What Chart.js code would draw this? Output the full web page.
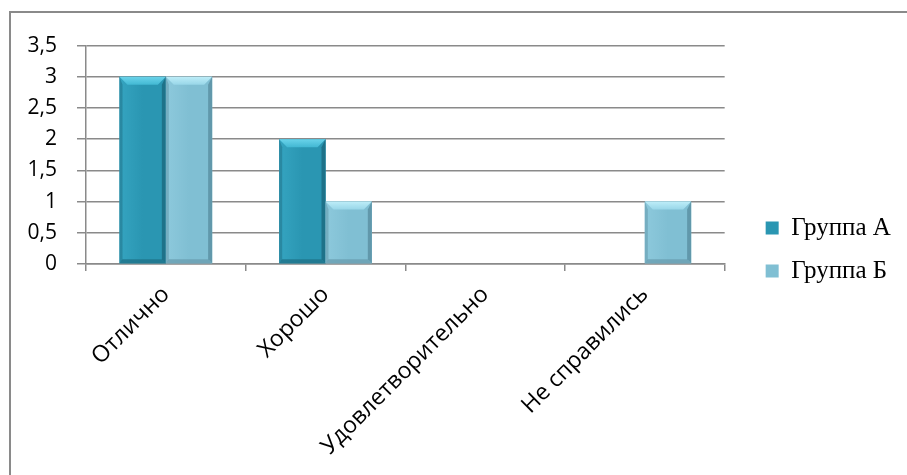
<!DOCTYPE html>
<html><head><meta charset="utf-8">
<script src="https://cdn.jsdelivr.net/npm/chart.js@4/dist/chart.umd.min.js"></script>
<style>
html,body{margin:0;padding:0;background:#fff;overflow:hidden;width:907px;height:475px}
#frame{position:absolute;left:9px;top:11px;width:920px;height:500px;border:2px solid #8a8a8a;background:#fff}
#c{position:absolute;left:0;top:0}
</style></head><body>
<div id="frame"><canvas id="c" width="900" height="446"></canvas></div>
<script>
const categories = ['Отлично', 'Хорошо', 'Удовлетворительно', 'Не справились'];
const groupA = [3, 2, 0, 0];
const groupB = [3, 1, 0, 1];
const seriesNames = ['Группа А', 'Группа Б'];
const yMin = 0, yMax = 3.5, yStep = 0.5;

const palette = [
  {base:'#2a96b2', light:'#35a4c0', dark:'#1d6e84', top:'#6ad3ea', topIn:'#42b8d3', bottom:'#1f7389'},
  {base:'#80bfd3', light:'#8dc9dc', dark:'#5d93a6', top:'#bdedf8', topIn:'#98d6e8', bottom:'#6a9fb1'}
];

const bevel = {
  id: 'bevel',
  afterDatasetsDraw(chart) {
    const ctx = chart.ctx;
    chart.data.datasets.forEach((ds, i) => {
      const meta = chart.getDatasetMeta(i);
      const p = palette[i];
      meta.data.forEach(bar => {
        const {x, y, base, width} = bar.getProps(['x', 'y', 'base', 'width'], true);
        const h = base - y;
        if (h < 1) return;
        const L = x - width / 2, R = x + width / 2, T = y, B = base;
        const b = Math.min(8, h / 2);
        ctx.save();
        const g = ctx.createLinearGradient(L, 0, R, 0);
        g.addColorStop(0, p.light);
        g.addColorStop(0.5, p.base);
        g.addColorStop(1, p.base);
        ctx.fillStyle = g;
        ctx.fillRect(L, T, width, h);
        const tg = ctx.createLinearGradient(0, T, 0, T + b);
        tg.addColorStop(0, p.top);
        tg.addColorStop(1, p.topIn);
        ctx.fillStyle = tg;
        ctx.beginPath();
        ctx.moveTo(L, T); ctx.lineTo(R, T); ctx.lineTo(R - b, T + b); ctx.lineTo(L + b, T + b); ctx.closePath();
        ctx.fill();
        ctx.fillStyle = p.dark;
        ctx.globalAlpha = 0.5;
        ctx.beginPath();
        ctx.moveTo(L, T); ctx.lineTo(L + 3, T + b); ctx.lineTo(L + 3, B - 3); ctx.lineTo(L, B); ctx.closePath();
        ctx.fill();
        ctx.globalAlpha = 0.9;
        ctx.beginPath();
        ctx.moveTo(R, T); ctx.lineTo(R - 4, T + b); ctx.lineTo(R - 4, B - 4); ctx.lineTo(R, B); ctx.closePath();
        ctx.fill();
        ctx.globalAlpha = 0.8;
        ctx.fillStyle = p.bottom;
        ctx.beginPath();
        ctx.moveTo(L, B); ctx.lineTo(L + 3, B - 4); ctx.lineTo(R - 4, B - 4); ctx.lineTo(R, B); ctx.closePath();
        ctx.fill();
        ctx.restore();
      });
    });
  }
};

new Chart(document.getElementById('c'), {
  type: 'bar',
  data: {
    labels: categories,
    datasets: [
      {label: seriesNames[0], data: groupA, backgroundColor: palette[0].base, borderWidth: 0,
       categoryPercentage: 0.58, barPercentage: 1.0},
      {label: seriesNames[1], data: groupB, backgroundColor: palette[1].base, borderWidth: 0,
       categoryPercentage: 0.58, barPercentage: 1.0}
    ]
  },
  options: {
    responsive: false,
    animation: false,
    events: [],
    layout: {padding: {top: 27, left: 0, right: 16, bottom: 0}},
    plugins: {
      tooltip: {enabled: false},
      title: {display: false},
      legend: {
        position: 'right',
        align: 'center',
        labels: {
          color: '#000',
          font: {family: '"Liberation Serif", "Times New Roman", serif', size: 25},
          boxWidth: 13, boxHeight: 13, padding: 18
        }
      }
    },
    scales: {
      x: {
        grid: {display: true, drawOnChartArea: false, drawTicks: true, tickLength: 7, color: '#8a8a8a', lineWidth: 1.5, offset: true},
        border: {display: true, color: '#8a8a8a', width: 1.5},
        ticks: {color: '#000', font: {family: '"Open Sans", sans-serif', size: 23}, maxRotation: 45, minRotation: 45, padding: 10, autoSkip: false},
        afterFit(s) { s.height = 195; }
      },
      y: {
        min: yMin, max: yMax,
        grid: {color: '#8a8a8a', lineWidth: 1.5, drawTicks: true, tickLength: 9},
        border: {display: true, color: '#8a8a8a', width: 1.5},
        ticks: {stepSize: yStep, color: '#000', padding: 20,
          font: {family: '"Open Sans", sans-serif', size: 21},
          callback: v => String(v).replace('.', ',')},
        afterFit(s) { s.width = 75; }
      },
      yR: {
        position: 'right', display: true,
        grid: {display: false}, border: {display: false}, ticks: {display: false},
        afterFit(s) { s.width = 23; }
      }
    }
  },
  plugins: [bevel]
});
</script>
</body></html>
